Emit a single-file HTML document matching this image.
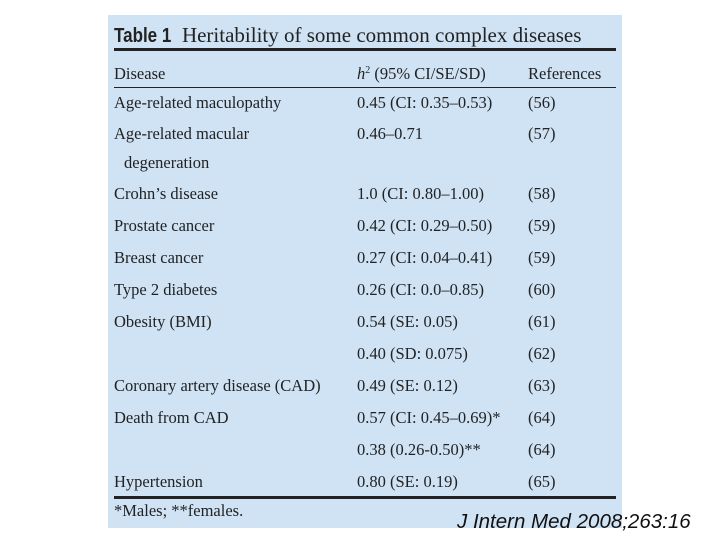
<!DOCTYPE html>
<html><head><meta charset="utf-8"><style>
body{margin:0;width:720px;height:540px;background:#fff;position:relative;overflow:hidden;font-family:"Liberation Serif",serif;color:#222}
.box{position:absolute;left:108px;top:15px;width:514px;height:513px;background:#cfe3f5}
.t{position:absolute;font-size:16.5px;line-height:20px;white-space:nowrap}
.l{position:absolute;left:114px;width:502px;background:#222}
.cite{position:absolute;left:457px;top:510px;font-family:"Liberation Sans",sans-serif;font-style:italic;font-size:20.5px;color:#111}
sup{font-size:10px;line-height:0;vertical-align:6px}
</style></head><body>
<div class="box"></div>
<div class="t" style="left:114px;top:22px;font-size:21px;line-height:26px"><b style="font-family:'Liberation Sans',sans-serif;font-size:20px;display:inline-block;transform:scaleX(0.85);transform-origin:left;margin-right:-10px">Table 1</b>&nbsp; Heritability of some common complex diseases</div>
<div class="l" style="top:48px;height:3px"></div>
<div class="t" style="left:114px;top:64px">Disease</div>
<div class="t" style="left:357px;top:64px"><i>h</i><sup>2</sup> (95% CI/SE/SD)</div>
<div class="t" style="left:528px;top:64px">References</div>
<div class="l" style="top:87px;height:1px"></div>

<div class="t" style="left:114px;top:93px">Age-related maculopathy</div><div class="t" style="left:357px;top:93px">0.45 (CI: 0.35–0.53)</div><div class="t" style="left:528px;top:93px">(56)</div>
<div class="t" style="left:114px;top:124px">Age-related macular</div><div class="t" style="left:357px;top:124px">0.46–0.71</div><div class="t" style="left:528px;top:124px">(57)</div>
<div class="t" style="left:124px;top:153px">degeneration</div>
<div class="t" style="left:114px;top:184px">Crohn’s disease</div><div class="t" style="left:357px;top:184px">1.0 (CI: 0.80–1.00)</div><div class="t" style="left:528px;top:184px">(58)</div>
<div class="t" style="left:114px;top:216px">Prostate cancer</div><div class="t" style="left:357px;top:216px">0.42 (CI: 0.29–0.50)</div><div class="t" style="left:528px;top:216px">(59)</div>
<div class="t" style="left:114px;top:248px">Breast cancer</div><div class="t" style="left:357px;top:248px">0.27 (CI: 0.04–0.41)</div><div class="t" style="left:528px;top:248px">(59)</div>
<div class="t" style="left:114px;top:280px">Type 2 diabetes</div><div class="t" style="left:357px;top:280px">0.26 (CI: 0.0–0.85)</div><div class="t" style="left:528px;top:280px">(60)</div>
<div class="t" style="left:114px;top:312px">Obesity (BMI)</div><div class="t" style="left:357px;top:312px">0.54 (SE: 0.05)</div><div class="t" style="left:528px;top:312px">(61)</div>
<div class="t" style="left:357px;top:344px">0.40 (SD: 0.075)</div><div class="t" style="left:528px;top:344px">(62)</div>
<div class="t" style="left:114px;top:376px">Coronary artery disease (CAD)</div><div class="t" style="left:357px;top:376px">0.49 (SE: 0.12)</div><div class="t" style="left:528px;top:376px">(63)</div>
<div class="t" style="left:114px;top:408px">Death from CAD</div><div class="t" style="left:357px;top:408px">0.57 (CI: 0.45–0.69)*</div><div class="t" style="left:528px;top:408px">(64)</div>
<div class="t" style="left:357px;top:440px">0.38 (0.26-0.50)**</div><div class="t" style="left:528px;top:440px">(64)</div>
<div class="t" style="left:114px;top:472px">Hypertension</div><div class="t" style="left:357px;top:472px">0.80 (SE: 0.19)</div><div class="t" style="left:528px;top:472px">(65)</div>
<div class="l" style="top:496px;height:3px"></div>
<div class="t" style="left:114px;top:501px">*Males; **females.</div>
<div class="cite">J Intern Med 2008;263:16</div>
</body></html>
